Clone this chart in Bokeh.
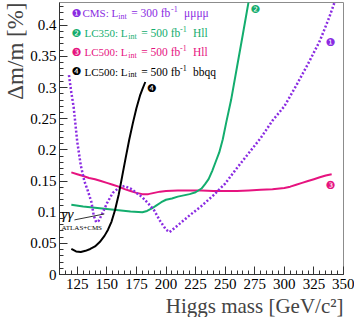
from bokeh.plotting import figure
from bokeh.models import Range1d, FixedTicker, CustomJSTickFormatter, Label, Title
from bokeh.embed import file_html
from bokeh.resources import INLINE

# ---------------- data ----------------
mass_cms = [118, 120, 122, 125, 128, 131, 134, 137, 139, 141, 143, 146, 150, 155, 160, 165,
            170, 175, 180, 185, 190, 195, 200, 203, 210, 220, 230, 240, 250, 260, 270, 280,
            290, 300, 310, 320, 330, 338, 343]
dm_cms = [0.320, 0.292, 0.268, 0.213, 0.175, 0.150, 0.134, 0.116, 0.094, 0.084, 0.086, 0.097,
          0.114, 0.131, 0.139, 0.142, 0.138, 0.131, 0.124, 0.114, 0.103, 0.086, 0.072, 0.068,
          0.079, 0.095, 0.110, 0.127, 0.146, 0.171, 0.195, 0.219, 0.247, 0.270, 0.303, 0.338,
          0.375, 0.413, 0.440]

mass_lc350 = [120, 130, 140, 150, 160, 170, 180, 184, 188, 192, 196, 200, 205, 210, 215, 220,
              225, 230, 233, 236, 239, 242, 245, 248, 251, 255, 260, 265, 270]
dm_lc350 = [0.112, 0.109, 0.107, 0.105, 0.103, 0.101, 0.100, 0.102, 0.106, 0.111, 0.116, 0.120,
            0.122, 0.125, 0.127, 0.129, 0.132, 0.138, 0.145, 0.153, 0.166, 0.181, 0.196, 0.217,
            0.245, 0.280, 0.333, 0.386, 0.440]

mass_lc500 = [120, 125, 130, 135, 140, 145, 150, 155, 160, 165, 170, 175, 180, 185, 190, 195,
              200, 210, 220, 230, 240, 250, 260, 270, 280, 290, 300, 305, 310, 315, 320, 325,
              330, 335, 340]
dm_lc500 = [0.164, 0.161, 0.158, 0.155, 0.153, 0.150, 0.147, 0.144, 0.141, 0.137, 0.134, 0.131,
            0.129, 0.129, 0.131, 0.133, 0.134, 0.135, 0.135, 0.135, 0.134, 0.134, 0.134, 0.135,
            0.136, 0.137, 0.139, 0.141, 0.144, 0.147, 0.150, 0.153, 0.156, 0.159, 0.161]

mass_bbqq = [120, 124, 128, 132, 136, 140, 144, 148, 151, 154, 157, 160, 163, 166, 169, 172,
             175, 178, 180, 182.5]
dm_bbqq = [0.041, 0.037, 0.036, 0.038, 0.041, 0.045, 0.052, 0.062, 0.072, 0.085, 0.104, 0.128,
           0.158, 0.188, 0.217, 0.243, 0.267, 0.287, 0.297, 0.309]

x_ticks = [125, 150, 175, 200, 225, 250, 275, 300, 325, 350]
x_minor = list(range(110, 351, 5))
y_ticks = [0, 0.05, 0.1, 0.15, 0.2, 0.25, 0.3, 0.35, 0.4]
y_minor = [i / 100 for i in range(0, 44)]

legend_rows = [
    ("\u2776", "CMS: L", "= 300 fb", "\u03bc\u03bc\u03bc\u03bc"),
    ("\u2777", "LC350: L", "= 500 fb", "Hll"),
    ("\u2778", "LC500: L", "= 500 fb", "Hll"),
    ("\u2779", "LC500: L", "= 500 fb", "bbqq"),
]

# ---------------- style ----------------
PURPLE = "#8a2be2"
GREEN = "#13ad6e"
PINK = "#e6137f"
BLACK = "#000000"
row_colors = [PURPLE, GREEN, PINK, BLACK]
SERIF = "Liberation Serif"

X0, X1 = 110, 350
Y0, Y1 = 0, 0.4366
W, H = 354, 317
BL, BR, BT, BB = 58, 11, 2, 41
FW = W - BL - BR
FH = H - BT - BB

p = figure(width=W, height=H, x_range=Range1d(X0, X1), y_range=Range1d(Y0, Y1),
           output_backend="svg", toolbar_location=None,
           min_border_left=BL, min_border_right=BR, min_border_top=BT, min_border_bottom=BB)
p.background_fill_color = "white"
p.border_fill_color = "white"
p.outline_line_color = "#8c8c8c"
p.xgrid.visible = False
p.ygrid.visible = False

for ax in (p.xaxis[0], p.yaxis[0]):
    ax.major_tick_in = 8
    ax.major_tick_out = 0
    ax.minor_tick_in = 4
    ax.minor_tick_out = 0
    ax.axis_line_color = "#333333"
    ax.major_tick_line_color = "#333333"
    ax.minor_tick_line_color = "#333333"
    ax.major_label_text_font = SERIF
    ax.major_label_text_color = "black"
    ax.major_label_text_font_size = "15px"

p.xaxis.ticker = FixedTicker(ticks=x_ticks, minor_ticks=x_minor)
p.yaxis.ticker = FixedTicker(ticks=y_ticks, minor_ticks=y_minor)
p.yaxis.formatter = CustomJSTickFormatter(code="return String(Math.round(tick*100)/100);")
p.xaxis.major_label_standoff = 4
p.yaxis.major_label_standoff = 3

p.add_layout(Title(text="Higgs mass [GeV/c\u00b2]", align="right", text_font=SERIF,
                   text_font_size="21px", text_font_style="normal", standoff=0), "below")
p.add_layout(Title(text="\u0394m/m [%]", align="right", text_font=SERIF,
                   text_font_size="23px", text_font_style="normal", standoff=0), "left")

# ---------------- curves ----------------
p.line(mass_lc500, dm_lc500, line_color=PINK, line_width=2)
p.line(mass_lc350, dm_lc350, line_color=GREEN, line_width=2)
p.line(mass_cms, dm_cms, line_color=PURPLE, line_width=2.5, line_dash="2 2")
p.line(mass_bbqq, dm_bbqq, line_color=BLACK, line_width=2)


def px2x(px):
    return X0 + (px - BL) * (X1 - X0) / FW


def py2y(py):
    return Y1 - (py - BT) * (Y1 - Y0) / FH


# ---------------- legend ----------------
row_py = [13, 33, 52, 72]
for i, (num, main, mid, last) in enumerate(legend_rows):
    c = row_colors[i]
    y = py2y(row_py[i])
    if i == 0:
        xs = (81, 117, 130, 170, 183)
    else:
        xs = (83, 127, 140, 179, 192)
    p.add_layout(Label(x=px2x(75), y=y, text=num, text_color=c, text_font="DejaVu Sans",
                       text_font_size="11px", text_align="center", text_baseline="middle"))
    p.add_layout(Label(x=px2x(xs[0]), y=y, text=main, text_color=c, text_font=SERIF,
                       text_font_size="11px", text_baseline="middle"))
    p.add_layout(Label(x=px2x(xs[1]), y=y, y_offset=-3, text="int", text_color=c,
                       text_font=SERIF, text_font_size="8px", text_baseline="middle"))
    p.add_layout(Label(x=px2x(xs[2]), y=y, text=mid, text_color=c, text_font=SERIF,
                       text_font_size="11.5px", text_baseline="middle"))
    p.add_layout(Label(x=px2x(xs[3]), y=y, y_offset=4, text="-1", text_color=c,
                       text_font=SERIF, text_font_size="8px", text_baseline="middle"))
    p.add_layout(Label(x=px2x(xs[4]), y=y, text=last, text_color=c, text_font=SERIF,
                       text_font_size="11.5px", text_baseline="middle"))

# curve-end markers
end_marks = [("\u2776", PURPLE, 339.0, 0.373), ("\u2777", GREEN, 275.5, 0.425),
             ("\u2778", PINK, 339.0, 0.143), ("\u2779", BLACK, 188.0, 0.299)]
for t, c, mx, my in end_marks:
    p.add_layout(Label(x=mx, y=my, text=t, text_color=c, text_font="DejaVu Sans",
                       text_font_size="11px", text_align="center", text_baseline="middle"))

# gamma-gamma annotation
p.add_layout(Label(x=px2x(60), y=py2y(223), text="\u03b3\u03b3", text_font=SERIF,
                   text_font_style="italic", text_font_size="15px", text_baseline="bottom",
                   text_color="black"))
p.add_layout(Label(x=px2x(60), y=py2y(225), text="ATLAS+CMS", text_font=SERIF,
                   text_font_size="7px", text_baseline="top", text_color="black"))
p.segment(x0=[px2x(73)], y0=[py2y(221)], x1=[px2x(103)], y1=[py2y(215)],
          line_color="#333333", line_width=1)

open("out.html", "w").write(file_html(p, INLINE))
